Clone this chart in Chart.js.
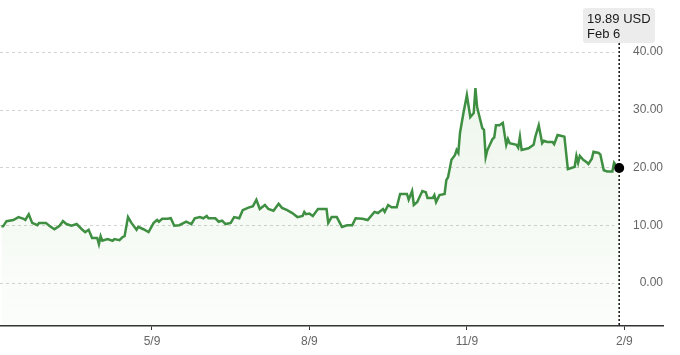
<!DOCTYPE html>
<html>
<head>
<meta charset="utf-8">
<script src="https://cdn.jsdelivr.net/npm/chart.js@4.4.1/dist/chart.umd.min.js"></script>
<style>
  html, body { margin: 0; padding: 0; background: #fff; }
  #wrap { width: 680px; height: 355px; }
</style>
</head>
<body>
<div id="wrap"><canvas id="c" width="680" height="355"></canvas></div>
<script>
const dates = [
  "2024-02-11","2024-02-12","2024-02-14","2024-02-18","2024-02-21","2024-02-24","2024-02-25","2024-02-27","2024-02-29",
  "2024-03-03","2024-03-04","2024-03-08","2024-03-10","2024-03-13","2024-03-16","2024-03-18","2024-03-20","2024-03-23",
  "2024-03-26","2024-03-29","2024-03-31","2024-04-02","2024-04-04","2024-04-07","2024-04-08","2024-04-09","2024-04-10",
  "2024-04-13","2024-04-16","2024-04-17","2024-04-20","2024-04-22","2024-04-23","2024-04-25","2024-04-27","2024-04-30",
  "2024-05-01","2024-05-04","2024-05-07","2024-05-10","2024-05-12","2024-05-13","2024-05-15","2024-05-18","2024-05-20",
  "2024-05-22","2024-05-25","2024-05-29","2024-06-01","2024-06-03","2024-06-06","2024-06-08","2024-06-10","2024-06-11",
  "2024-06-15","2024-06-17","2024-06-19","2024-06-21","2024-06-24","2024-06-26","2024-06-29","2024-07-01","2024-07-04",
  "2024-07-07","2024-07-09","2024-07-11","2024-07-14","2024-07-16","2024-07-19","2024-07-22","2024-07-24","2024-07-27",
  "2024-07-30","2024-08-02","2024-08-05","2024-08-06","2024-08-07","2024-08-09","2024-08-11","2024-08-14","2024-08-19",
  "2024-08-20","2024-08-22","2024-08-25","2024-08-28","2024-08-31","2024-09-03","2024-09-05","2024-09-09","2024-09-12",
  "2024-09-16","2024-09-18","2024-09-21","2024-09-22","2024-09-24","2024-09-26","2024-09-29","2024-10-01","2024-10-05",
  "2024-10-06","2024-10-08","2024-10-09","2024-10-11","2024-10-14","2024-10-16","2024-10-17","2024-10-20","2024-10-21",
  "2024-10-22","2024-10-24","2024-10-27","2024-10-28","2024-10-29","2024-10-31","2024-11-02","2024-11-03","2024-11-04",
  "2024-11-05","2024-11-07","2024-11-09","2024-11-11","2024-11-13","2024-11-14","2024-11-15","2024-11-18","2024-11-19",
  "2024-11-20","2024-11-21","2024-11-24","2024-11-25","2024-11-26","2024-11-28","2024-11-30","2024-12-02","2024-12-03",
  "2024-12-04","2024-12-08","2024-12-09","2024-12-10","2024-12-11","2024-12-15","2024-12-18","2024-12-19","2024-12-21",
  "2024-12-23","2024-12-24","2024-12-26","2024-12-29","2024-12-30","2025-01-01","2025-01-04","2025-01-05","2025-01-07",
  "2025-01-09","2025-01-11","2025-01-12","2025-01-13","2025-01-14","2025-01-16","2025-01-18","2025-01-19","2025-01-21",
  "2025-01-22","2025-01-25","2025-01-26","2025-01-28","2025-01-30","2025-02-02","2025-02-03","2025-02-04","2025-02-06"
];
const prices = [
  9.8,9.8,10.7,10.9,11.4,11.1,10.9,11.9,10.4,
  10.0,10.4,10.4,9.9,9.3,9.9,10.7,10.2,9.9,
  10.2,9.3,8.8,9.2,7.8,7.8,6.7,8.1,7.3,
  7.6,7.3,7.6,7.4,8.0,8.1,11.4,10.4,9.2,
  9.7,9.3,8.8,10.4,10.9,10.6,11.1,11.1,11.2,
  9.9,10.0,10.6,10.2,11.2,11.4,11.2,11.6,11.2,
  11.2,10.6,10.8,10.2,10.4,11.4,11.2,12.6,13.0,
  13.3,14.4,12.8,13.5,12.8,12.5,13.7,13.0,12.6,
  12.1,11.4,11.6,12.3,11.9,12.0,11.6,12.8,12.8,
  10.4,11.4,11.4,9.7,10.0,10.0,11.2,11.1,10.9,
  12.3,12.1,12.8,12.3,13.5,13.1,13.1,15.4,15.4,
  14.4,15.9,13.5,14.0,15.9,15.7,14.7,14.7,15.2,
  14.0,15.2,15.4,17.8,18.3,21.3,22.1,23.0,22.5,
  26.0,29.4,32.5,28.7,29.4,33.7,30.4,26.8,26.5,
  21.8,23.0,24.9,25.2,27.3,27.3,27.7,23.9,24.9,
  24.2,23.9,23.4,25.3,23.0,23.3,23.9,25.3,27.3,
  24.2,24.6,24.4,24.4,24.0,25.6,25.4,25.3,19.7,
  19.9,20.1,22.0,20.8,22.0,21.3,20.9,20.6,21.5,
  22.7,22.5,22.2,19.5,19.3,19.3,20.8,20.4,19.89
];
const tickDates = ["2024-05-09","2024-08-09","2024-11-09","2025-02-09"];
const tickLabels = ["5/9","8/9","11/9","2/9"];
const yTicks = [0, 10, 20, 30, 40];
const currency = "USD";
const lastDateLabel = "Feb 6";

const originDate = "2024-05-09";
function dayNum(s) {
  const [y, m, d] = s.split("-").map(Number);
  return Date.UTC(y, m - 1, d) / 86400000;
}
const origin = dayNum(originDate);
const toX = s => dayNum(s) - origin;

const points = dates.map((d, i) => ({ x: toX(d), y: prices[i] }));
const tickXs = tickDates.map(toX);
const lastIdx = points.length - 1;

const FONT = "'Liberation Sans', Arial, Helvetica, sans-serif";

const decor = {
  id: 'decor',
  beforeDatasetsDraw(chart) {
    const { ctx, chartArea, scales } = chart;
    const meta = chart.getDatasetMeta(0);
    const lp = meta.data[lastIdx];
    ctx.save();
    ctx.strokeStyle = '#d2d2d2';
    ctx.lineWidth = 1;
    ctx.setLineDash([3, 3]);
    yTicks.forEach(v => {
      const y = Math.round(scales.y.getPixelForValue(v)) + 0.5;
      ctx.beginPath();
      ctx.moveTo(chartArea.left, y);
      ctx.lineTo(lp.x - 5, y);
      ctx.stroke();
    });
    ctx.strokeStyle = '#111';
    ctx.lineWidth = 1.5;
    ctx.setLineDash([2, 2]);
    ctx.beginPath();
    ctx.moveTo(lp.x, 43);
    ctx.lineTo(lp.x, chartArea.bottom);
    ctx.stroke();
    ctx.restore();
  },
  afterDatasetsDraw(chart) {
    const { ctx } = chart;
    ctx.save();
    const bx = 583, by = 8, bw = 72, bh = 35, r = 3;
    ctx.fillStyle = '#ececec';
    ctx.beginPath();
    ctx.moveTo(bx + r, by);
    ctx.lineTo(bx + bw - r, by);
    ctx.quadraticCurveTo(bx + bw, by, bx + bw, by + r);
    ctx.lineTo(bx + bw, by + bh - r);
    ctx.quadraticCurveTo(bx + bw, by + bh, bx + bw - r, by + bh);
    ctx.lineTo(bx + r, by + bh);
    ctx.quadraticCurveTo(bx, by + bh, bx, by + bh - r);
    ctx.lineTo(bx, by + r);
    ctx.quadraticCurveTo(bx, by, bx + r, by);
    ctx.fill();
    ctx.fillStyle = '#1a1a1a';
    ctx.font = '13px ' + FONT;
    ctx.textAlign = 'left';
    ctx.textBaseline = 'alphabetic';
    ctx.fillText(prices[lastIdx].toFixed(2) + ' ' + currency, 587, 23);
    ctx.fillText(lastDateLabel, 587, 38);
    ctx.restore();
  }
};

const ctx = document.getElementById('c').getContext('2d');
new Chart(ctx, {
  type: 'line',
  data: {
    datasets: [{
      data: points,
      borderColor: '#3f8f42',
      borderWidth: 2.5,
      tension: 0,
      fill: 'start',
      backgroundColor: (c) => {
        const ca = c.chart.chartArea;
        if (!ca) return 'rgba(80,160,70,0.06)';
        const g = c.chart.ctx.createLinearGradient(0, ca.top, 0, ca.bottom);
        g.addColorStop(0, 'rgba(90,170,70,0.12)');
        g.addColorStop(1, 'rgba(90,170,70,0.02)');
        return g;
      },
      pointRadius: (c) => c.dataIndex === lastIdx ? 5 : 0,
      pointHoverRadius: 0,
      pointBackgroundColor: '#000',
      pointBorderColor: '#000',
      pointBorderWidth: 0,
      clip: false
    }]
  },
  options: {
    responsive: false,
    animation: false,
    events: [],
    layout: { autoPadding: false, padding: { left: 0, right: 17, top: 40, bottom: 0 } },
    plugins: { legend: { display: false }, tooltip: { enabled: false } },
    scales: {
      x: {
        type: 'linear',
        min: -88.8,
        max: 298.6,
        afterBuildTicks: (s) => { s.ticks = tickXs.map(v => ({ value: v })); },
        afterFit: (s) => { s.height = 29; s.paddingLeft = 0; s.paddingRight = 0; },
        grid: { drawOnChartArea: false, drawTicks: true, tickLength: 4, color: '#333', lineWidth: 1 },
        border: { display: true, color: '#333', width: 1.5 },
        ticks: {
          color: '#666',
          font: { family: FONT, size: 12 },
          padding: 4,
          maxRotation: 0,
          autoSkip: false,
          callback: (v) => { const i = tickXs.indexOf(v); return i >= 0 ? tickLabels[i] : ''; }
        }
      },
      y: {
        type: 'linear',
        position: 'right',
        min: -7.44,
        max: 42.04,
        afterBuildTicks: (s) => { s.ticks = yTicks.map(v => ({ value: v })); },
        afterFit: (s) => { s.width = 0; s.paddingTop = 0; s.paddingBottom = 0; },
        grid: { display: false },
        border: { display: false },
        ticks: {
          mirror: true,
          padding: 0,
          color: '#666',
          font: { family: FONT, size: 12 },
          callback: (v) => Number(v).toFixed(2)
        }
      }
    }
  },
  plugins: [decor]
});
</script>
</body>
</html>
